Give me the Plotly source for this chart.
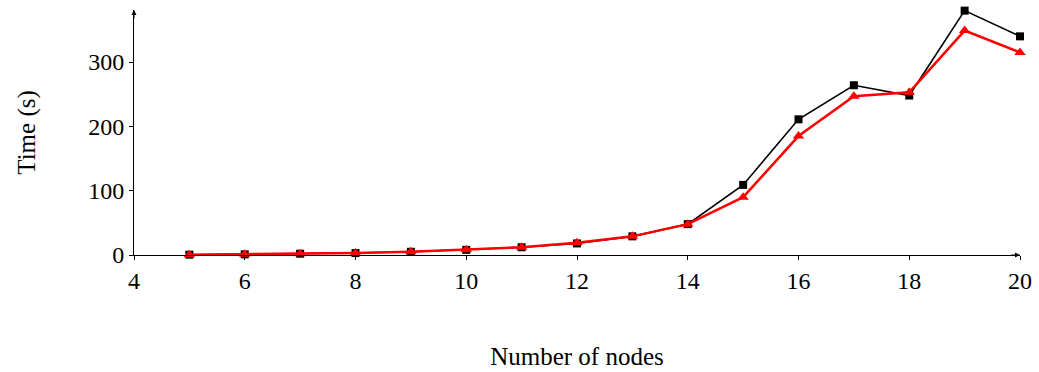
import plotly.graph_objects as go

# Runtime measurements per graph size
nodes = [5, 6, 7, 8, 9, 10, 11, 12, 13, 14, 15, 16, 17, 18, 19, 20]
time_black = [0.5, 1, 2, 3, 5, 8, 12, 18, 29, 48, 109, 211, 264, 248, 380, 340]
time_red = [0.5, 1, 2, 3, 5, 8, 12, 19, 29, 48, 90, 185, 247, 253, 349, 315]

x_ticks = [4, 6, 8, 10, 12, 14, 16, 18, 20]
y_ticks = [0, 100, 200, 300]

FONT = "Liberation Serif"

fig = go.Figure()
fig.add_trace(go.Scatter(
    x=nodes, y=time_black, mode="lines+markers",
    line=dict(color="black", width=1.6),
    marker=dict(symbol="square", size=8, color="black"),
    showlegend=False, cliponaxis=False,
))
fig.add_trace(go.Scatter(
    x=nodes, y=time_red, mode="lines+markers",
    line=dict(color="red", width=2.5),
    marker=dict(symbol="triangle-up", size=10, color="red"),
    showlegend=False, cliponaxis=False,
))

axis_common = dict(
    showgrid=False, zeroline=False, showline=True, linecolor="black",
    linewidth=1, ticks="outside", ticklen=4, tickcolor="black",
    tickfont=dict(family=FONT, size=24, color="black"),
)

fig.update_xaxes(
    range=[4, 20], tickvals=x_ticks, **axis_common,
    title=dict(text="Number of nodes", font=dict(family=FONT, size=25, color="black"), standoff=54),
)
fig.update_yaxes(
    range=[0, 381], tickvals=y_ticks, **axis_common,
    title=dict(text="Time (s)", font=dict(family=FONT, size=25, color="black"), standoff=45),
)

# Arrow heads at the ends of both axes
fig.add_annotation(x=1, y=0, xref="paper", yref="paper", ax=-10, ay=0,
                   showarrow=True, arrowhead=2, arrowsize=1, arrowwidth=1,
                   arrowcolor="black", text="")
fig.add_annotation(x=0, y=1, xref="paper", yref="paper", ax=0, ay=10,
                   showarrow=True, arrowhead=2, arrowsize=1, arrowwidth=1,
                   arrowcolor="black", text="")

fig.update_layout(
    width=1039, height=372,
    margin=dict(l=134, r=19, t=10, b=117, autoexpand=False),
    plot_bgcolor="white", paper_bgcolor="white",
)

fig.write_html("out.html")
